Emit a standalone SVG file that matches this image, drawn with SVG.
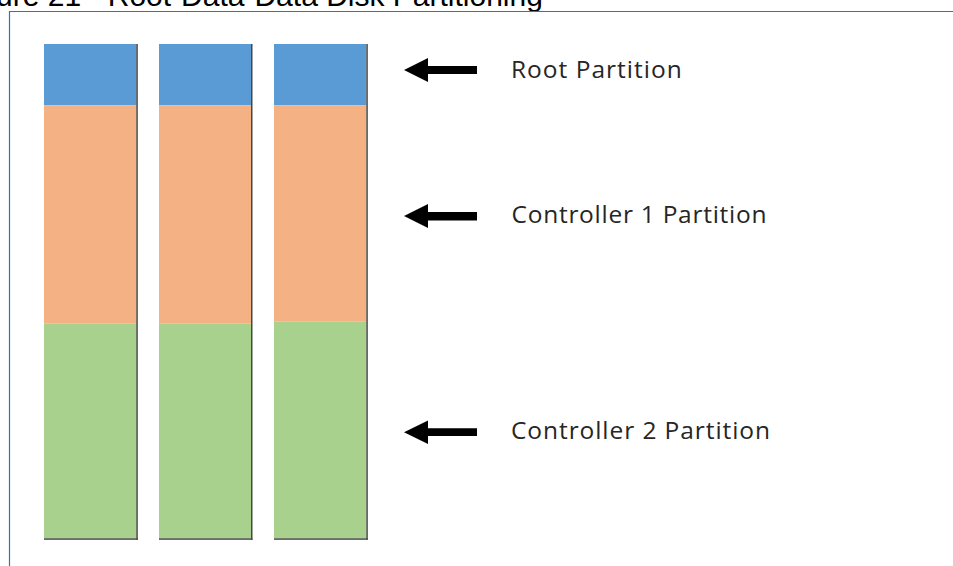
<svg xmlns="http://www.w3.org/2000/svg" width="953" height="566" viewBox="0 0 953 566">
  <style>
    .blue { fill: #5B9BD5; }
    .orange { fill: #F4B183; }
    .green { fill: #A9D18E; }
    .shadow { fill: #45493F; }
    .label { font-family: "Open Sans", "Noto Sans", sans-serif; font-size: 24.5px; fill: #262626; }
    .title { font-family: "Liberation Sans", Arial, sans-serif; font-size: 30px; fill: #000000; }
    .arrow { fill: #000000; }
  </style>
  <rect width="953" height="566" fill="#FFFFFF"/>
  <text class="title" x="-4" y="6">ure 21 - Root-Data-Data Disk Partitioning</text>
  <path d="M9.5 566 V11.5 H953" fill="none" stroke="#2E75B6" stroke-width="1.2"/>

  <g id="disk1">
    <rect class="blue" x="44" y="44" width="92.5" height="61.3"/>
    <rect class="orange" x="44" y="105.3" width="92.5" height="218"/>
    <rect class="green" x="44" y="323.3" width="92.5" height="215"/>
    <rect class="shadow" x="136.3" y="44" width="1.5" height="495.8"/>
    <rect class="shadow" x="44" y="538.3" width="93.8" height="1.5"/>
  </g>
  <g id="disk2">
    <rect class="blue" x="159" y="44" width="92" height="61.3"/>
    <rect class="orange" x="159" y="105.3" width="92" height="218"/>
    <rect class="green" x="159" y="323.3" width="92" height="215"/>
    <rect class="shadow" x="251" y="44" width="1.5" height="495.8"/>
    <rect class="shadow" x="159" y="538.3" width="93.5" height="1.5"/>
  </g>
  <g id="disk3">
    <rect class="blue" x="274" y="44" width="92.3" height="61.3"/>
    <rect class="orange" x="274" y="105.3" width="92.3" height="216.4"/>
    <rect class="green" x="274" y="321.7" width="92.3" height="216.6"/>
    <rect class="shadow" x="366.3" y="44" width="1.5" height="495.8"/>
    <rect class="shadow" x="274" y="538.3" width="93.8" height="1.5"/>
  </g>

  <g id="connectors">
    <polygon class="arrow" points="404,70 428,58 428,66 477,66 477,74 428,74 428,82"/>
    <polygon class="arrow" points="404,216 428,204 428,212 477,212 477,220.5 428,220.5 428,228"/>
    <polygon class="arrow" points="404,432.3 428,420.5 428,428.3 477,428.3 477,436 428,436 428,444"/>
  </g>

  <g id="label-root">
    <text class="label" x="511" y="77.7" textLength="170.7" lengthAdjust="spacing">Root Partition</text>
  </g>
  <g id="label-ctrl1">
    <text class="label" x="511.5" y="223.3" textLength="255" lengthAdjust="spacing">Controller 1 Partition</text>
  </g>
  <g id="label-ctrl2">
    <text class="label" x="511" y="439.3" textLength="259" lengthAdjust="spacing">Controller 2 Partition</text>
  </g>
</svg>
